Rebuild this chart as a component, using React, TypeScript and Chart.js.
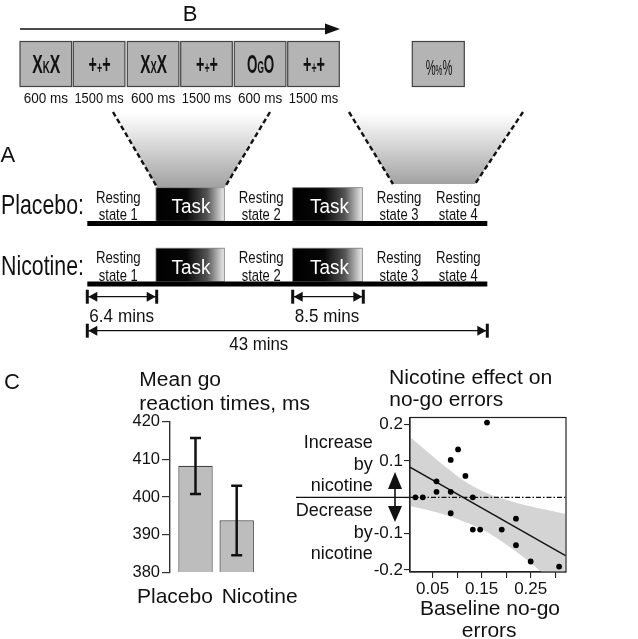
import React, { useEffect, useRef } from 'react';
import { Chart, registerables } from 'chart.js';

Chart.register(...registerables);

// ---------- Data: bar chart (mean go reaction times) ----------
const BAR_CATEGORIES = ['Placebo', 'Nicotine'];
const BAR_MEANS = [408.3, 393.8];
const BAR_ERR_LOW = [400.8, 384.5];
const BAR_ERR_HIGH = [415.7, 403.0];
const BAR_Y_TICKS = [380, 390, 400, 410, 420];

// ---------- Data: scatter (nicotine effect vs baseline no-go errors) ----------
const BASELINE_ERRORS = [0.015, 0.03, 0.058, 0.058, 0.087, 0.102, 0.087, 0.087, 0.117, 0.132, 0.132, 0.147, 0.161, 0.191, 0.22, 0.22, 0.25, 0.308];
const NICOTINE_EFFECT = [0, 0, 0.044, 0.015, 0.103, 0.132, 0.015, -0.044, 0.059, 0, -0.089, -0.089, 0.206, -0.089, -0.059, -0.132, -0.177, -0.191];
const FIT_X = [0.004, 0.321];
const FIT_Y = [0.083, -0.161];
const BAND_X = [0.004, 0.04, 0.08, 0.12, 0.16, 0.2, 0.24, 0.28, 0.321];
const BAND_UPPER = [0.166, 0.125, 0.08, 0.04, 0.012, -0.007, -0.022, -0.034, -0.046];
const BAND_LOWER = [-0.025, -0.035, -0.05, -0.07, -0.095, -0.13, -0.17, -0.215, -0.26];
const SCATTER_X_TICKS = [0.05, 0.1, 0.15, 0.2, 0.25, 0.3];
const SCATTER_X_LABELS = ['0.05', '', '0.15', '', '0.25', ''];
const SCATTER_Y_TICKS = [-0.2, -0.1, 0, 0.1, 0.2];
const SCATTER_Y_LABELS = ['-0.2', '-0.1', '', '0.1', '0.2'];

// ---------- Diagram text ----------
const STIMULI = [
  { big: 'X', small: 'K', w: 28 },
  { big: '+', small: '+', w: 22 },
  { big: 'X', small: 'X', w: 26.7 },
  { big: '+', small: '+', w: 22 },
  { big: 'O', small: 'G', w: 27.3 },
  { big: '+', small: '+', w: 22 },
];
const STIM_DURATIONS = ['600 ms', '1500 ms', '600 ms', '1500 ms', '600 ms', '1500 ms'];
const SESSIONS = ['Placebo:', 'Nicotine:'];
const REST_LABELS = ['state 1', 'state 2', 'state 3', 'state 4'];

const FONT = 'Liberation Sans, Arial, Helvetica, sans-serif';

function T(p: any) {
  const { x, y, size, len, anchor = 'start', weight = 'normal', fill = '#111', children } = p;
  const extra: any = len ? { textLength: len, lengthAdjust: 'spacingAndGlyphs' } : {};
  return (
    <text x={x} y={y} fontSize={size} fontFamily={FONT} textAnchor={anchor} fontWeight={weight} fill={fill} {...extra}>
      {children}
    </text>
  );
}

function Span({ x1, x2, y }: any) {
  return (
    <g>
      <line x1={x1} y1={y} x2={x2} y2={y} stroke="#111" strokeWidth={1.3} />
      <rect x={x1 - 1.5} y={y - 7} width={3} height={14} fill="#111" />
      <rect x={x2 - 1.5} y={y - 7} width={3} height={14} fill="#111" />
      <polygon points={`${x1 + 1},${y} ${x1 + 10},${y - 5} ${x1 + 10},${y + 5}`} fill="#111" />
      <polygon points={`${x2 - 1},${y} ${x2 - 10},${y - 5} ${x2 - 10},${y + 5}`} fill="#111" />
    </g>
  );
}

function Diagram() {
  const boxX = [20, 73.3, 127.3, 180.7, 234.3, 287.7];
  const boxW = 51.6;
  const restCenters = [118.3, 261.2, 399, 458.3];
  const rows = [0, 60.5];
  return (
    <svg width={638} height={639} style={{ position: 'absolute', left: 0, top: 0, pointerEvents: 'none' }}>
      <defs>
        <linearGradient id="fade" x1="0" y1="0" x2="0" y2="1">
          <stop offset="0" stopColor="#ffffff" />
          <stop offset="0.12" stopColor="#f6f6f6" />
          <stop offset="1" stopColor="#a2a2a2" />
        </linearGradient>
        <linearGradient id="taskGrad" x1="0" y1="0" x2="1" y2="0">
          <stop offset="0" stopColor="#000" />
          <stop offset="0.45" stopColor="#070707" />
          <stop offset="0.75" stopColor="#555" />
          <stop offset="1" stopColor="#ececec" />
        </linearGradient>
      </defs>

      {/* panel letters */}
      <T x={190} y={20.5} size={22} anchor="middle">B</T>
      <T x={0.5} y={162} size={22}>A</T>
      <T x={4} y={389} size={22}>C</T>

      {/* B: time arrow */}
      <line x1={20} y1={29} x2={328} y2={29} stroke="#111" strokeWidth={1.5} />
      <polygon points="325,23.5 340,29 325,34.5" fill="#111" />

      {/* stimulus boxes */}
      {boxX.map((x, i) => (
        <g key={i}>
          <rect x={x} y={41.5} width={boxW} height={45} fill="#b4b4b4" stroke="#444" strokeWidth={1.2} />
          <text x={x + boxW / 2 + 0.5} y={72.5} fontSize={26} fontWeight="bold" fontFamily={FONT} textAnchor="middle" fill="#111" textLength={STIMULI[i].w} lengthAdjust="spacingAndGlyphs">
            {STIMULI[i].big}
            <tspan fontSize={16}>{STIMULI[i].small}</tspan>
            {STIMULI[i].big}
          </text>
          <T x={x + boxW / 2} y={102.5} size={14} anchor="middle" len={STIM_DURATIONS[i].length > 6 ? 49.3 : 44.3}>
            {STIM_DURATIONS[i]}
          </T>
        </g>
      ))}
      <rect x={412.3} y={41.5} width={52} height={45} fill="#b4b4b4" stroke="#444" strokeWidth={1.2} />
      <text x={439} y={75} fontSize={22} fontFamily={FONT} textAnchor="middle" fill="#111" textLength={26.7} lengthAdjust="spacingAndGlyphs">
        %<tspan fontSize={15}>%</tspan>%
      </text>

      {/* zoom trapezoids */}
      <polygon points="113,112 270,112 225,187 157,187" fill="url(#fade)" />
      <polygon points="349,112 523,112 475,184 393,184" fill="url(#fade)" />
      <g stroke="#111" strokeWidth={2.4} strokeDasharray="5 3">
        <line x1={113} y1={112} x2={157} y2={187} />
        <line x1={270} y1={112} x2={225} y2={187} />
        <line x1={349} y1={112} x2={393} y2={184} />
        <line x1={523} y1={112} x2={475} y2={184} />
      </g>

      {/* session rows */}
      {rows.map((off, r) => (
        <g key={r}>
          <T x={1} y={214 + off} size={28} len={83}>{SESSIONS[r]}</T>
          {[{ x: 156, w: 68.3, c: 191 }, { x: 292.7, w: 69.6, c: 329.5 }].map((b, k) => (
            <g key={k}>
              <rect x={b.x} y={187.7 + off} width={b.w} height={33.5} fill="url(#taskGrad)" stroke="#777" strokeWidth={0.8} />
              <T x={b.c} y={213.3 + off} size={20} len={39} anchor="middle" fill="#fff">Task</T>
            </g>
          ))}
          {restCenters.map((c, k) => (
            <g key={k}>
              <T x={c} y={202.7 + off} size={17} len={44.7} anchor="middle">Resting</T>
              <T x={c} y={219.5 + off + (r === 1 ? 1.2 : 0)} size={17} len={39} anchor="middle">{REST_LABELS[k]}</T>
            </g>
          ))}
          <rect x={87.3} y={221 + off} width={400} height={5} fill="#000" />
        </g>
      ))}

      {/* durations */}
      <Span x1={87.3} x2={156.7} y={296.7} />
      <Span x1={292.7} x2={363.3} y={296.7} />
      <Span x1={87.3} x2={487.3} y={330.7} />
      <T x={121.7} y={321.7} size={18.5} len={64.7} anchor="middle">6.4 mins</T>
      <T x={327} y={321.7} size={18.5} len={64.3} anchor="middle">8.5 mins</T>
      <T x={258.8} y={350} size={18.5} len={59} anchor="middle">43 mins</T>

      {/* C: bar chart texts */}
      <T x={139.3} y={386} size={20} len={81.7}>Mean go</T>
      <T x={139.3} y={410} size={20} len={170.7}>reaction times, ms</T>
      <T x={137} y={603.3} size={21}>{BAR_CATEGORIES[0]}</T>
      <T x={221.7} y={603.3} size={21}>{BAR_CATEGORIES[1]}</T>

      {/* C: scatter texts */}
      <T x={389} y={384} size={20} len={163.3}>Nicotine effect on</T>
      <T x={389.3} y={406} size={20} len={114}>no-go errors</T>
      <T x={490} y={615} size={21} anchor="middle">Baseline no-go</T>
      <T x={489.2} y={637} size={21} anchor="middle">errors</T>
      <T x={372.7} y={448.3} size={18} anchor="end">Increase</T>
      <T x={372.7} y={469.5} size={18} anchor="end">by</T>
      <T x={372.7} y={491} size={18} anchor="end">nicotine</T>
      <T x={372.7} y={516} size={18} anchor="end">Decrease</T>
      <T x={372.7} y={537.5} size={18} anchor="end">by</T>
      <T x={372.7} y={559.3} size={18} anchor="end">nicotine</T>
      <line x1={395} y1={482} x2={395} y2={512} stroke="#111" strokeWidth={1.6} />
      <polygon points="395,472 388,489 402,489" fill="#111" />
      <polygon points="395,522 388,506 402,506" fill="#111" />
    </svg>
  );
}

const errorBarPlugin = {
  id: 'errorBars',
  afterDatasetsDraw(chart: any) {
    const { ctx, scales } = chart;
    const xs = scales.x;
    const ys = scales.y;
    ctx.save();
    ctx.strokeStyle = '#111';
    ctx.lineWidth = 2.5;
    BAR_MEANS.forEach((_, i) => {
      const x = xs.getPixelForValue(i + 1);
      const yt = ys.getPixelForValue(BAR_ERR_HIGH[i]);
      const yb = ys.getPixelForValue(BAR_ERR_LOW[i]);
      ctx.beginPath();
      ctx.moveTo(x, yt);
      ctx.lineTo(x, yb);
      ctx.moveTo(x - 5.5, yt);
      ctx.lineTo(x + 5.5, yt);
      ctx.moveTo(x - 5.5, yb);
      ctx.lineTo(x + 5.5, yb);
      ctx.stroke();
    });
    ctx.restore();
  },
};

const scatterDecorPlugin = {
  id: 'scatterDecor',
  afterDatasetDraw(chart: any, args: any) {
    if (args.index !== 0) return;
    const { ctx, chartArea, scales } = chart;
    const y0 = scales.y.getPixelForValue(0);
    ctx.save();
    ctx.strokeStyle = '#111';
    ctx.lineWidth = 1.2;
    ctx.setLineDash([5, 2, 1.5, 2]);
    ctx.beginPath();
    ctx.moveTo(chartArea.left, y0);
    ctx.lineTo(chartArea.right, y0);
    ctx.stroke();
    ctx.setLineDash([]);
    ctx.beginPath();
    ctx.moveTo(6, y0);
    ctx.lineTo(chartArea.left, y0);
    ctx.stroke();
    ctx.restore();
  },
  afterDraw(chart: any) {
    const { ctx, chartArea } = chart;
    ctx.save();
    ctx.strokeStyle = '#222';
    ctx.lineWidth = 1.2;
    ctx.strokeRect(chartArea.left, chartArea.top, chartArea.right - chartArea.left, chartArea.bottom - chartArea.top);
    ctx.restore();
  },
};

export default function App() {
  const barRef = useRef<HTMLCanvasElement | null>(null);
  const scRef = useRef<HTMLCanvasElement | null>(null);

  useEffect(() => {
    const tickFont = { family: FONT, size: 16.5 };
    const bar = new Chart(barRef.current as HTMLCanvasElement, {
      type: 'bar',
      data: {
        datasets: [
          {
            data: BAR_MEANS.map((v, i) => ({ x: i + 1, y: v })),
            backgroundColor: '#bdbdbd',
            borderColor: '#444',
            borderWidth: 1.2,
            categoryPercentage: 1,
            barPercentage: 0.835,
          } as any,
        ],
      },
      options: {
        responsive: false,
        animation: false,
        devicePixelRatio: 1,
        layout: { padding: { top: 11, bottom: 10, left: 0, right: 2.7 } },
        plugins: { legend: { display: false }, tooltip: { enabled: false } },
        scales: {
          x: { type: 'linear', min: 0.381, max: 2.5, offset: false, grid: { offset: false }, display: false },
          y: {
            min: 380,
            max: 420,
            afterBuildTicks: (s: any) => {
              s.ticks = BAR_Y_TICKS.map((v) => ({ value: v }));
            },
            afterFit: (s: any) => {
              s.width = 70;
            },
            ticks: { font: tickFont, color: '#111', padding: 2 },
            grid: { drawOnChartArea: false, tickLength: 8, color: '#333', lineWidth: 1.2 },
            border: { color: '#333', width: 1.4 },
          },
        },
      } as any,
      plugins: [errorBarPlugin],
    });

    const sFont = { family: FONT, size: 17 };
    const sc = new Chart(scRef.current as HTMLCanvasElement, {
      type: 'line',
      data: {
        datasets: [
          {
            data: BAND_X.map((x, i) => ({ x, y: BAND_UPPER[i] })),
            borderWidth: 0,
            pointRadius: 0,
            backgroundColor: '#d4d4d4',
            fill: '+1',
            cubicInterpolationMode: 'monotone',
            order: 10,
          },
          {
            data: BAND_X.map((x, i) => ({ x, y: BAND_LOWER[i] })),
            borderWidth: 0,
            pointRadius: 0,
            fill: false,
            cubicInterpolationMode: 'monotone',
            order: 10,
          },
          {
            data: FIT_X.map((x, i) => ({ x, y: FIT_Y[i] })),
            borderColor: '#111',
            borderWidth: 1.3,
            pointRadius: 0,
            fill: false,
            order: 2,
          },
          {
            data: BASELINE_ERRORS.map((x, i) => ({ x, y: NICOTINE_EFFECT[i] })),
            showLine: false,
            pointRadius: 2.9,
            pointBackgroundColor: '#000',
            pointBorderColor: '#000',
            pointBorderWidth: 0,
            fill: false,
            order: 1,
          },
        ] as any,
      },
      options: {
        responsive: false,
        animation: false,
        devicePixelRatio: 1,
        layout: { padding: { top: 12.5, bottom: 0, left: 0, right: 9 } },
        plugins: { legend: { display: false }, tooltip: { enabled: false } },
        scales: {
          x: {
            type: 'linear',
            min: 0.004,
            max: 0.322,
            afterBuildTicks: (s: any) => {
              s.ticks = SCATTER_X_TICKS.map((v) => ({ value: v }));
            },
            afterFit: (s: any) => {
              s.height = 30;
            },
            ticks: {
              callback: (_v: any, i: number) => SCATTER_X_LABELS[i],
              autoSkip: false,
              maxRotation: 0,
              padding: 1,
              font: sFont,
              color: '#111',
            },
            grid: { drawOnChartArea: false, tickLength: 6, color: '#222', lineWidth: 1.1 },
            border: { color: '#222', width: 1.2 },
          },
          y: {
            type: 'linear',
            min: -0.206,
            max: 0.22,
            afterBuildTicks: (s: any) => {
              s.ticks = SCATTER_Y_TICKS.map((v) => ({ value: v }));
            },
            afterFit: (s: any) => {
              s.width = 120;
            },
            ticks: {
              callback: (_v: any, i: number) => SCATTER_Y_LABELS[i],
              autoSkip: false,
              padding: 1,
              font: sFont,
              color: '#111',
            },
            grid: { drawOnChartArea: false, tickLength: 6, color: '#222', lineWidth: 1.1 },
            border: { color: '#222', width: 1.2 },
          },
        },
      } as any,
      plugins: [scatterDecorPlugin],
    });

    return () => {
      bar.destroy();
      sc.destroy();
    };
  }, []);

  return (
    <div style={{ position: 'absolute', left: 0, top: 0, width: 638, height: 639, background: '#fff', overflow: 'hidden' }}>
      <canvas ref={barRef} width={160} height={174} style={{ position: 'absolute', left: 100, top: 410 }} />
      <canvas ref={scRef} width={285} height={197} style={{ position: 'absolute', left: 290, top: 405 }} />
      <Diagram />
    </div>
  );
}
